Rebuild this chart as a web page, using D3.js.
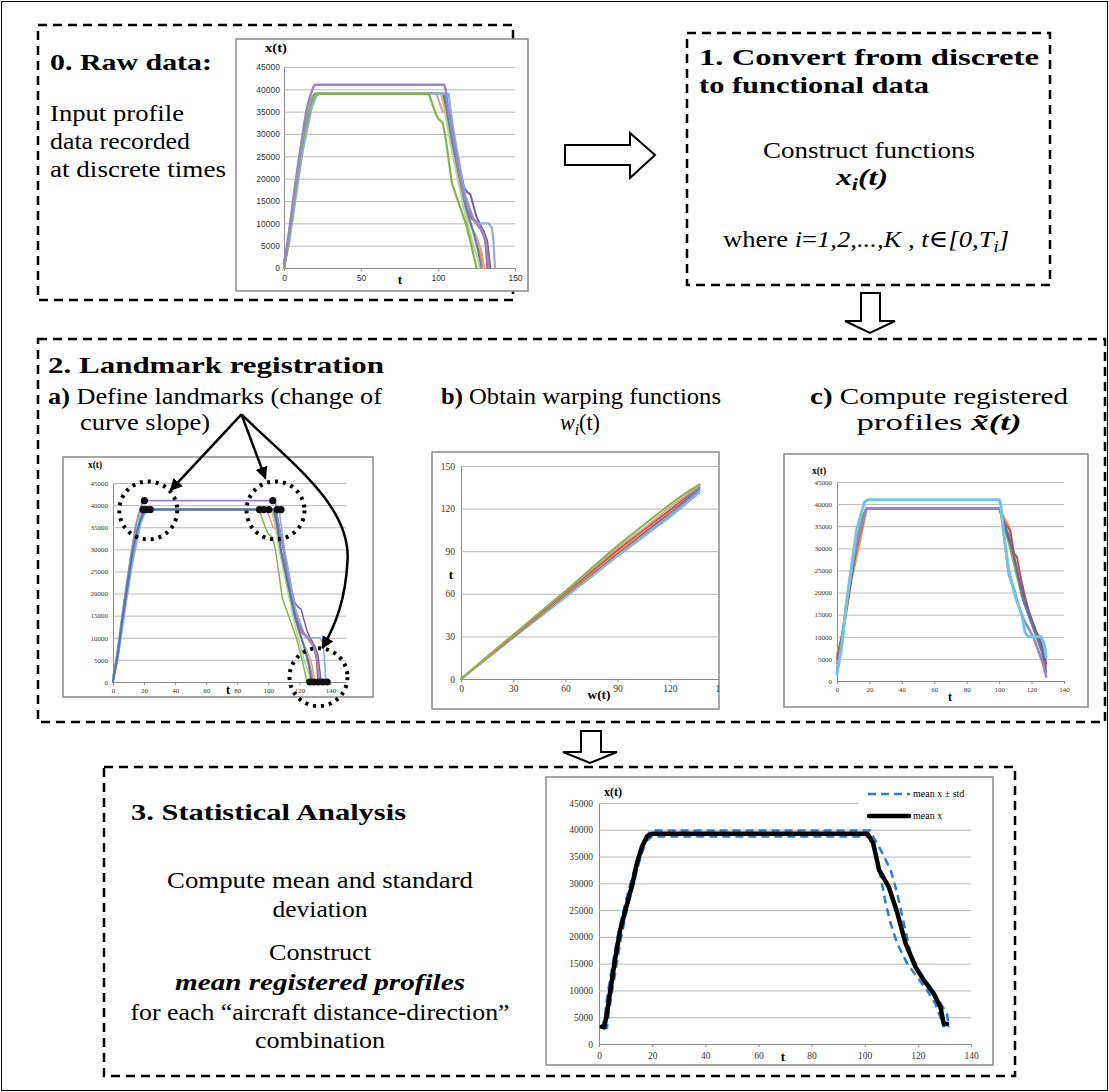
<!DOCTYPE html>
<html><head><meta charset="utf-8">
<script src="https://cdn.jsdelivr.net/npm/d3@7/dist/d3.min.js"></script>
<style>html,body{margin:0;padding:0;background:#fff}svg{display:block}</style>
</head><body>
<script>
// ---------------- DATA ----------------
// Raw profiles [t, x(t)] (used in panel 0 and panel 2a)
const rawPurple = [[0,1000],[2,5000],[4,10000],[7,18000],[10,25000],[13,32000],[15,36000],[17,38500],[19,40500],[20,41000],[104,41000],[105,40000],[106,37000],[108,33000],[110,29000],[112,25000],[114,21000],[117,16000],[120,13000],[123,11000],[126,10000],[129,8000],[131,6000],[132,3000],[133,0]];
const rawGreen = [[0,0],[2,4000],[5,11000],[8,19000],[11,26000],[14,32000],[17,36500],[19,38500],[21,39000],[94,39000],[96,37000],[98,35000],[100,33500],[103,32500],[105,29000],[107,24000],[109,19000],[112,16000],[115,13000],[118,10000],[121,6000],[123,3000],[125,0]];
const rawLightGreen = [[0,500],[3,7000],[6,15000],[9,22000],[12,29000],[15,34500],[18,38000],[21,39000],[102,39000],[104,36000],[106,32000],[108,28000],[111,23000],[114,18000],[117,13000],[120,9000],[123,5000],[126,2000],[127,0]];
const rawBlue = [[0,0],[3,6000],[6,14000],[9,21000],[12,28000],[15,33500],[18,37000],[21,39000],[104,39000],[106,35000],[108,30000],[111,25000],[114,20000],[117,15000],[120,11500],[123,8000],[126,4000],[128,0]];
const rawLightBlue = [[0,1500],[3,5000],[6,12000],[9,19000],[12,26000],[15,31000],[18,36000],[21,38500],[23,39000],[107,39000],[108,36000],[110,31000],[112,27000],[114,23000],[116,19000],[118,16000],[120,14000],[122,12000],[124,10000],[133,10000],[135,9000],[136,6000],[137,0]];
const rawRed = [[0,0],[3,6500],[6,14000],[9,21500],[12,28500],[15,33000],[18,37500],[20,39000],[103,39000],[105,36500],[107,32000],[109,28000],[111,25000],[113,21000],[116,17000],[119,13500],[122,11000],[125,10000],[128,8500],[130,7000],[131,5000],[132,0]];
const rawPink = [[0,0],[3,7000],[6,15000],[9,23000],[12,29500],[15,34000],[18,37500],[20,39000],[99,39000],[101,37000],[103,35000],[106,34500],[108,30000],[110,26000],[113,21000],[116,16000],[119,12000],[122,9000],[125,7000],[128,4000],[130,0]];
const rawOrange = [[0,0],[3,5000],[6,12500],[9,19500],[12,26000],[14,30000],[16,33000],[18,36000],[20,38500],[22,39000],[102,39000],[104,36500],[106,33000],[108,29000],[111,24000],[114,19000],[117,15000],[120,11000],[123,8000],[126,5000],[128,2000],[129,0]];
const rawDarkPurple = [[0,0],[3,6000],[6,14000],[9,22000],[12,29000],[15,34000],[18,38000],[20,39000],[105,39000],[107,35000],[109,31500],[111,28000],[113,25000],[115,21000],[117,18000],[119,17000],[121,16500],[123,14000],[125,11500],[127,10000],[130,8000],[132,6000],[133,3000],[134,0]];

// Landmark points [t, x]
const landmarks = [[20.2,41000],[102.9,41000],[19.3,39000],[21.5,39000],[24.0,39000],[94.3,39000],[97.1,39000],[100.3,39000],[105.7,39000],[108.2,39000],[126.7,0],[129.3,0],[132.1,0],[135.1,0],[137.9,0]];
// Landmark circles (centre in data units)
const landmarkCircles = [[22.7,38800],[104.6,38800],[132.3,1100]];
// Annotation arrows (data units of panel 2a): apex, tips
const arrowApex = [82.7,60500];
const arrowTips = [[37,43350],[98.1,46060]];
const arrowCurve = [[114.3,49680],[152.9,39970],[151,27550],[149.7,18520],[143.3,12870],[134.8,7680]];

// Warping functions [w, t]
const warpGreen = [[0,0],[10,10.5],[20,21],[30,31],[45,46.5],[60,62],[75,78],[90,94],[105,108.5],[120,123],[128,130],[137,137]];
const warpPink = [[0,0],[15,15.5],[30,31],[45,46.5],[60,61.5],[75,77],[90,92.5],[105,106],[120,121],[130,130],[137,136]];
const warpRed = [[0,0],[30,30.5],[60,60.5],[90,91],[105,105],[120,119],[137,136]];
const warpOrange = [[0,0],[30,30],[60,60],[90,89.5],[105,104],[115,114],[120,118],[137,137]];
const warpTeal = [[0,0],[30,30],[60,59.5],[90,90],[120,119],[137,135]];
const warpPurple = [[0,0],[30,29.5],[60,59],[90,88.5],[120,117],[137,134]];
const warpLightGreen = [[0,0],[30,29.5],[60,58.5],[90,88],[120,116.5],[137,135]];
const warpLightBlue = [[0,0],[30,29],[60,57.5],[90,86.5],[120,114],[137,131],[137,137]];
const warpBlue = [[0,0],[30,29.2],[60,58],[90,87.5],[120,115.5],[137,132.5]];

// Registered profiles [t, x]
const regAqua = [[0,1500],[3,8000],[6,18000],[9,26000],[12,34000],[15,38000],[17,40500],[19,41000],[100,41000],[101,40000],[102,36000],[104,30000],[106,25000],[108,22000],[110,19000],[112,17000],[114,15000],[116,11000],[118,10000],[126,10000],[128,8000],[129,5500]];
const regPurple = [[0,2000],[3,9000],[6,18000],[9,25000],[12,31000],[15,35000],[18,39000],[101,39000],[102,36000],[104,30000],[106,24000],[109,21000],[112,17000],[115,14000],[118,12000],[121,10000],[124,7000],[127,4000],[129,1000]];
const regRed = [[0,5000],[4,12000],[8,22000],[12,30000],[16,36000],[18,39000],[100,39000],[103,36000],[105,35000],[107,34000],[109,29000],[111,28000],[113,24000],[116,19000],[119,15000],[122,12000],[125,9000],[128,6000],[129,4000]];
const regOrange = [[0,6000],[3,10000],[6,16000],[9,23000],[12,28000],[15,33000],[18,38500],[19,39000],[100,39000],[103,37000],[106,35000],[108,31000],[111,25000],[114,20000],[118,15000],[122,11000],[126,7000],[129,3500]];
const regBlue = [[0,2000],[4,12000],[8,22000],[12,31000],[16,37000],[18,39000],[100,39000],[103,36000],[106,33000],[109,28000],[112,23000],[115,18000],[119,14000],[123,10000],[126,7000],[129,2000]];
const regGreen = [[0,3000],[4,13000],[8,24000],[12,32000],[16,37500],[18,39000],[100,39000],[103,35000],[106,31000],[110,25000],[114,19000],[118,15000],[122,11000],[126,7000],[129,3000]];
const regDarkPurple = [[0,4000],[4,12000],[8,21000],[12,30000],[16,36500],[18,39000],[101,39000],[104,34000],[107,31000],[110,27000],[113,22000],[117,17000],[120,14000],[123,11000],[125,10000],[127,7000],[129,2000]];

// Statistics [t, x]
const meanX = [[1,3200],[2,3200],[3,5700],[4.3,10100],[6.2,16300],[8,21300],[10.3,25700],[12.5,29700],[14.3,33800],[16.2,36900],[18.1,38800],[20,39250],[101,39250],[102,38500],[103.2,37500],[105.4,32500],[109,29400],[112.3,24400],[115.4,18750],[119.1,14400],[122.25,11900],[126,9400],[128.5,6900],[129.75,3750],[131,3750]];
const upperStd = [[1,3000],[2,4500],[3,8500],[5,14500],[7,20000],[9,24500],[11,28500],[13,32000],[15,35500],[17,38000],[19,39500],[20,39850],[102,39850],[104,38000],[106,36250],[109.75,32500],[112.25,28100],[114.75,22500],[117.25,16900],[121,13100],[124.75,10600],[127.9,8100],[131,5600],[131.6,3100]];
const lowerStd = [[1.5,2800],[3,3000],[4,7000],[6,13000],[8,19000],[10,24000],[12,28000],[14,32000],[16,35500],[18,38000],[20,38750],[101.6,38750],[104.1,35600],[106,31250],[107.9,26250],[109.75,22500],[112.25,18750],[116,15000],[119.75,12500],[123.5,10000],[126.6,7500],[128.5,5000],[129.75,3100]];

// Axis ticks
const ticksX45k = [0,5000,10000,15000,20000,25000,30000,35000,40000,45000];
const rawTicksT = [0,50,100,150];
const ticksT140 = [0,20,40,60,80,100,120,140];
const warpTicks = [0,30,60,90,120,150];
const legendLabels = ['mean x \u00b1 std','mean x'];

// ---------------- DRAWING ----------------
const W = 1109, H = 1092;
const svg = d3.select('body').append('svg').attr('width',W).attr('height',H);
const defs = svg.append('defs');
defs.append('marker').attr('id','ah').attr('viewBox','0 0 10 10').attr('refX',9).attr('refY',5)
  .attr('markerWidth',5).attr('markerHeight',5).attr('orient','auto-start-reverse')
  .append('path').attr('d','M0,0 L10,5 L0,10 z').attr('fill','#000');

svg.append('rect').attr('x',1.5).attr('y',1.5).attr('width',W-3).attr('height',H-3)
  .attr('fill','none').attr('stroke','#000').attr('stroke-width',1);

const SERIF = "'Liberation Serif','DejaVu Serif',serif";
const SANS = "'Liberation Sans','DejaVu Sans',sans-serif";
function label(parent, x, y, segs, o={}) {
  const size = o.size || 24;
  const t = parent.append('text').attr('x',x).attr('y',y)
    .style('font-family', o.family || SERIF).attr('font-size', size)
    .attr('text-anchor', o.anchor || 'start').attr('fill','#000');
  let shifted = 0;
  (Array.isArray(segs)?segs:[segs]).forEach(s => {
    if (typeof s === 'string') s = {t:s};
    const ts = t.append('tspan').text(s.t);
    if (s.b || o.b) ts.attr('font-weight','bold');
    if (s.i || o.i) ts.attr('font-style','italic');
    if (s.sub) { ts.attr('font-size', size*0.7).attr('dy', size*0.2 - shifted); shifted = size*0.2; }
    else if (shifted) { ts.attr('dy', -shifted); shifted = 0; }
  });
  if (o.w) t.attr('textLength', o.w).attr('lengthAdjust','spacingAndGlyphs');
  return t;
}

function dashedBox(x0,y0,x1,y1){
  svg.append('rect').attr('x',x0).attr('y',y0).attr('width',x1-x0).attr('height',y1-y0)
    .attr('fill','none').attr('stroke','#000').attr('stroke-width',2.5).attr('stroke-dasharray','9,6');
}
dashedBox(38,25,513,300);
dashedBox(687,33,1050,285);
dashedBox(38,339,1105,722);
dashedBox(104,767,1015,1076);

// block arrows
function blockArrow(pts){
  svg.append('path').attr('d','M'+pts.map(p=>p.join(',')).join('L')+'Z')
    .attr('fill','#fff').attr('stroke','#000').attr('stroke-width',2).attr('stroke-linejoin','miter');
}
blockArrow([[565,145],[630,145],[630,133],[655,155],[630,178],[630,165],[565,165]]);
blockArrow([[861,293],[880,293],[880,321],[895,321],[870,333],[845,321],[861,321]]);
blockArrow([[581,731],[601,731],[601,752],[617,752],[590,763],[563,752],[581,752]]);

let clipN = 0;
function makeChart(o){
  const [fx0,fy0,fx1,fy1] = o.frame;
  const id = 'clip'+(clipN++);
  defs.append('clipPath').attr('id',id).append('rect').attr('x',fx0).attr('y',fy0).attr('width',fx1-fx0).attr('height',fy1-fy0);
  svg.append('rect').attr('x',fx0).attr('y',fy0).attr('width',fx1-fx0).attr('height',fy1-fy0)
    .attr('fill','#fff').attr('stroke','#8a8a8a').attr('stroke-width',1.5);
  const g = svg.append('g').attr('clip-path',`url(#${id})`);
  const x = d3.scaleLinear().domain(o.xd).range(o.xr);
  const y = d3.scaleLinear().domain(o.yd).range(o.yr);
  const yAx = d3.axisLeft(y).tickValues(o.yTicks).tickSize(-(o.xr[1]-o.xr[0])).tickSizeOuter(0)
    .tickPadding(o.ypad||4).tickFormat(d3.format('d'));
  g.append('g').attr('transform',`translate(${o.xr[0]},0)`).call(yAx).call(s=>{
    s.select('.domain').attr('stroke','#8a8a8a').attr('stroke-width',1);
    s.selectAll('.tick line').attr('stroke','#b8b8b8').attr('stroke-width',1);
    s.selectAll('.tick text').style('font-family',o.tickFont).attr('font-size',o.tickSize).attr('fill','#333');
  });
  const xAx = d3.axisBottom(x).tickValues(o.xTicks).tickSize(3).tickSizeOuter(0).tickPadding(o.xpad||3).tickFormat(d3.format('d'));
  g.append('g').attr('transform',`translate(0,${o.yr[0]})`).call(xAx).call(s=>{
    s.select('.domain').attr('stroke','#8a8a8a').attr('stroke-width',1);
    s.selectAll('.tick line').attr('stroke','#8a8a8a');
    s.selectAll('.tick text').style('font-family',o.tickFont).attr('font-size',o.tickSize).attr('fill','#333');
  });
  const line = d3.line().x(d=>x(d[0])).y(d=>y(d[1]));
  return {g,x,y,line};
}
function drawSeries(c, list){
  list.forEach(([data,color,w])=>{
    c.g.append('path').datum(data).attr('d',c.line).attr('fill','none')
      .attr('stroke',color).attr('stroke-width',w||2).attr('stroke-linejoin','round').attr('stroke-linecap','round');
  });
}

const C = {purple:'#9A86C4', green:'#86B44A', lgreen:'#B8D28C', blue:'#4F81BD', lblue:'#8DB0DF',
  red:'#C0504D', pink:'#E29A98', orange:'#F79646', dpurple:'#7A5C9E', teal:'#4BACC6', aqua:'#72C6DD'};

// ---------- Panel 0: raw data ----------
const c0 = makeChart({frame:[236,39,528,291], xd:[0,150], xr:[284,515], yd:[0,45000], yr:[268,67],
  xTicks:rawTicksT, yTicks:ticksX45k, tickFont:SANS, tickSize:8.5, xpad:4});
drawSeries(c0, [[rawOrange,C.orange],[rawPink,C.pink],[rawRed,C.red],[rawDarkPurple,C.dpurple],
  [rawBlue,C.blue],[rawLightGreen,C.lgreen],[rawLightBlue,C.lblue,2.2],[rawGreen,C.green,2.2],[rawPurple,C.purple,2.5]]);
label(svg, 276, 52, 'x(t)', {size:12.5, b:1, anchor:'middle', w:22});
label(svg, 400, 284, 't', {size:13, b:1, anchor:'middle'});

// ---------- Panel 2a: landmarks ----------
const ca = makeChart({frame:[63,457,373,697], xd:[0,150], xr:[113,346], yd:[0,45000], yr:[682,483],
  xTicks:ticksT140, yTicks:ticksX45k, tickFont:SERIF, tickSize:7, ypad:5});
drawSeries(ca, [[rawOrange,C.orange,1.5],[rawPink,C.pink,1.5],[rawRed,C.red,1.5],[rawDarkPurple,C.dpurple,1.5],
  [rawLightGreen,C.lgreen,1.5],[rawGreen,C.green,1.5],[rawLightBlue,C.lblue,1.6],[rawPurple,C.purple,1.8],[rawBlue,'#4A78B8',2]]);
ca.g.selectAll('circle.lm').data(landmarks).join('circle').attr('class','lm')
  .attr('cx',d=>ca.x(d[0])).attr('cy',d=>ca.y(d[1])).attr('r',3.6).attr('fill','#111');
label(svg, 95, 468, 'x(t)', {size:9.5, b:1, anchor:'middle'});
label(svg, 228, 694, 't', {size:12, b:1, anchor:'middle'});

// ---------- Panel 2b: warping ----------
const cb = makeChart({frame:[432,452,719,709], xd:[0,150], xr:[461,722], yd:[0,150], yr:[679,466],
  xTicks:warpTicks, yTicks:warpTicks, tickFont:SERIF, tickSize:9.5, ypad:6});
drawSeries(cb, [[warpBlue,'#6C93D0',1.8],[warpLightBlue,C.lblue,2],[warpLightGreen,C.lgreen,1.8],[warpPurple,C.dpurple,1.6],
  [warpTeal,C.teal,1.6],[warpOrange,C.orange,1.8],[warpRed,C.red,1.6],[warpPink,C.pink,1.8],[warpGreen,C.green,2]]);
label(svg, 451, 579, 't', {size:13, b:1, anchor:'middle'});
label(svg, 599, 699, 'w(t)', {size:12.5, b:1, anchor:'middle', w:23});

// ---------- Panel 2c: registered ----------
const cc = makeChart({frame:[784,454,1088,707], xd:[0,140], xr:[837,1064], yd:[0,45000], yr:[681,482],
  xTicks:ticksT140, yTicks:ticksX45k, tickFont:SERIF, tickSize:7, ypad:5});
drawSeries(cc, [[regOrange,C.orange,2.2],[regRed,C.red,2],[regGreen,C.green,1.8],[regBlue,C.blue,1.8],
  [regDarkPurple,C.dpurple,1.8],[regPurple,C.purple,2.6],[regAqua,C.aqua,3]]);
label(svg, 819, 474, 'x(t)', {size:9.5, b:1, anchor:'middle'});
label(svg, 950, 701, 't', {size:12, b:1, anchor:'middle'});

// ---------- Panel 3: statistics ----------
const cs = makeChart({frame:[546,777,993,1065], xd:[0,140], xr:[599,971], yd:[0,45000], yr:[1044,803],
  xTicks:ticksT140, yTicks:ticksX45k, tickFont:SERIF, tickSize:9.5, ypad:6, xpad:5});
cs.g.append('rect').attr('x',858).attr('y',781).attr('width',132).attr('height',42).attr('fill','#fff');
[upperStd, lowerStd].forEach(d=>{
  cs.g.append('path').datum(d).attr('d',cs.line).attr('fill','none').attr('stroke','#2F7FC6')
    .attr('stroke-width',2.5).attr('stroke-dasharray','8,5');
});
cs.g.append('path').datum(meanX).attr('d',cs.line).attr('fill','none').attr('stroke','#000')
  .attr('stroke-width',4.5).attr('stroke-linejoin','round').attr('stroke-linecap','round');
// legend
const lg = svg.append('g');
lg.append('line').attr('x1',868).attr('x2',910).attr('y1',794).attr('y2',794).attr('stroke','#2F7FC6').attr('stroke-width',2.5).attr('stroke-dasharray','8,5');
lg.append('line').attr('x1',869).attr('x2',909).attr('y1',816).attr('y2',816).attr('stroke','#000').attr('stroke-width',4.5).attr('stroke-linecap','round');
legendLabels.forEach((s,i)=> label(lg, 913, 797+i*22, s, {size:10}));
label(svg, 613, 796, 'x(t)', {size:12, b:1, anchor:'middle'});
label(svg, 783, 1061, 't', {size:13, b:1, anchor:'middle'});

// landmark circles and arrows (panel 2a, on top)
landmarkCircles.forEach(d=>{
  svg.append('circle').attr('cx',ca.x(d[0])).attr('cy',ca.y(d[1])).attr('r',29)
    .attr('fill','none').attr('stroke','#000').attr('stroke-width',4).attr('stroke-dasharray','3,5');
});
const ap = [ca.x(arrowApex[0]), ca.y(arrowApex[1])];
arrowTips.forEach(tp=>{
  svg.append('line').attr('x1',ap[0]).attr('y1',ap[1]).attr('x2',ca.x(tp[0])).attr('y2',ca.y(tp[1]))
    .attr('stroke','#000').attr('stroke-width',2.5).attr('marker-end','url(#ah)');
});
const cp = arrowCurve.map(d=>[ca.x(d[0]), ca.y(d[1])]);
svg.append('path').attr('d',`M${ap}C${cp[0]} ${cp[1]} ${cp[2]}C${cp[3]} ${cp[4]} ${cp[5]}`)
  .attr('fill','none').attr('stroke','#000').attr('stroke-width',2.5).attr('marker-end','url(#ah)');

// ---------------- TEXT ----------------
label(svg, 50, 70, '0. Raw data:', {b:1, w:162});
label(svg, 50, 121, 'Input profile', {w:134});
label(svg, 50, 149, 'data recorded', {w:140});
label(svg, 50, 177, 'at discrete times', {w:176});

label(svg, 699, 65, '1. Convert from discrete', {b:1, w:340});
label(svg, 699, 93, 'to functional data', {b:1, w:230});
label(svg, 869, 158, 'Construct functions', {anchor:'middle', w:212});
label(svg, 862, 185, [{t:'x',b:1,i:1},{t:'i',b:1,i:1,sub:1},{t:'(t)',b:1,i:1}], {anchor:'middle', w:52});
label(svg, 866, 247, ['where ',{t:'i',i:1},'=',{t:'1,2,...,K',i:1},' ,  ',{t:'t',i:1},'\u2208',{t:'[0,T',i:1},{t:'i',i:1,sub:1},{t:']',i:1}], {anchor:'middle', w:286});

label(svg, 48, 373, '2. Landmark registration', {b:1, w:336});
label(svg, 48, 404, [{t:'a)',b:1},' Define landmarks (change of'], {w:334});
label(svg, 80, 430, 'curve slope)', {w:130});
label(svg, 581, 404, [{t:'b)',b:1},' Obtain warping functions'], {anchor:'middle', w:280});
label(svg, 580, 430, [{t:'w',i:1},{t:'i',i:1,sub:1},{t:'(t)'}], {anchor:'middle', w:40});
label(svg, 939, 404, [{t:'c)',b:1},' Compute registered'], {anchor:'middle', w:258});
label(svg, 939, 430, ['profiles ',{t:'x\u0303(t)',b:1,i:1}], {anchor:'middle', w:165});

label(svg, 131, 820, '3. Statistical Analysis', {b:1, w:275});
label(svg, 320, 888, 'Compute mean and standard', {anchor:'middle', w:306});
label(svg, 320, 917, 'deviation', {anchor:'middle', w:95});
label(svg, 320, 960, 'Construct', {anchor:'middle', w:102});
label(svg, 320, 990, 'mean registered profiles', {anchor:'middle', b:1, i:1, w:290});
label(svg, 320, 1020, 'for each \u201caircraft distance-direction\u201d', {anchor:'middle', w:379});
label(svg, 320, 1048, 'combination', {anchor:'middle', w:130});
</script>
</body></html>
